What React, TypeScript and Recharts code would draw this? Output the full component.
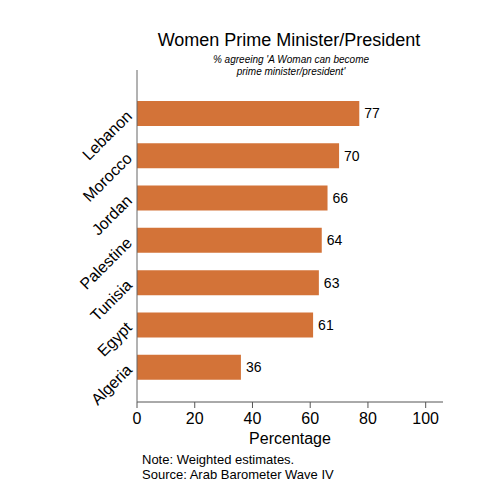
import React from "react";
import { BarChart, Bar, XAxis, YAxis, LabelList } from "recharts";

const countries = ["Lebanon", "Morocco", "Jordan", "Palestine", "Tunisia", "Egypt", "Algeria"];
const values = [77, 70, 66, 64, 63, 61, 36];
const xTicks = [0, 20, 40, 60, 80, 100];

const data = countries.map((c, i) => ({ country: c, value: values[i] }));

const FONT = "'Liberation Sans', Arial, Helvetica, sans-serif";

const YTick = (props: any) => {
  const { y, payload } = props;
  const x = 133;
  const yy = y + 4;
  return (
    <text
      x={x}
      y={yy}
      textAnchor="end"
      transform={`rotate(-45, ${x}, ${yy})`}
      fontSize={16}
      fill="#000"
      fontFamily={FONT}
    >
      {payload.value}
    </text>
  );
};

export default function App() {
  return (
    <div style={{ position: "absolute", left: 0, top: 0, width: 491, height: 495, background: "#fff" }}>
      <BarChart
        width={491}
        height={495}
        data={data}
        layout="vertical"
        margin={{ top: 70, right: 48, left: 0, bottom: 63 }}
      >
        <XAxis
          type="number"
          domain={[0, 106]}
          ticks={xTicks}
          allowDataOverflow
          height={30}
          tickSize={6}
          tickMargin={5}
          stroke="#555"
          tick={{ fontSize: 16, fill: "#000", fontFamily: FONT }}
        />
        <YAxis
          type="category"
          dataKey="country"
          width={137}
          tickLine={false}
          stroke="#666"
          padding={{ top: 22, bottom: 14 }}
          tick={<YTick />}
          interval={0}
        />
        <Bar dataKey="value" fill="#D37338" barSize={25} isAnimationActive={false}>
          <LabelList
            dataKey="value"
            position="right"
            offset={5}
            style={{ fontSize: 14, fill: "#000", fontFamily: FONT }}
          />
        </Bar>
      </BarChart>
      <svg
        width={491}
        height={495}
        style={{ position: "absolute", left: 0, top: 0, pointerEvents: "none" }}
      >
        <text x={289} y={46} textAnchor="middle" fontSize={18} fontFamily={FONT} fill="#000">
          Women Prime Minister/President
        </text>
        <text x={291} y={63} textAnchor="middle" fontSize={10} fontStyle="italic" fontFamily={FONT} fill="#000">
          % agreeing 'A Woman can become
        </text>
        <text x={291} y={75} textAnchor="middle" fontSize={10} fontStyle="italic" fontFamily={FONT} fill="#000">
          prime minister/president'
        </text>
        <text x={290} y={444} textAnchor="middle" fontSize={16} fontFamily={FONT} fill="#000">
          Percentage
        </text>
        <text x={142} y={464} fontSize={13} fontFamily={FONT} fill="#000">
          Note: Weighted estimates.
        </text>
        <text x={142} y={479} fontSize={13} fontFamily={FONT} fill="#000">
          Source: Arab Barometer Wave IV
        </text>
      </svg>
    </div>
  );
}
